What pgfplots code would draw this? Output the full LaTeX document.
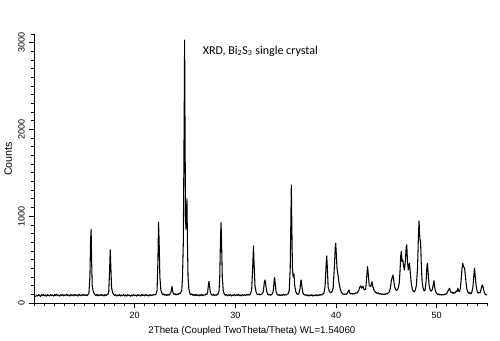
\documentclass[border=0pt]{standalone}
\usepackage{fontspec}
\setmainfont{Liberation Sans}
\newfontfamily\calibri{Carlito}
\usepackage{pgfplots}
\pgfplotsset{compat=1.18}
\begin{document}
\begin{tikzpicture}
\begin{axis}[
  scale only axis,
  width=339.75pt, height=201.75pt,
  xmin=10, xmax=55, ymin=0, ymax=3100,
  axis lines=left,
  axis line style={-, line width=0.7pt},
  xtick={20,30,40,50},
  minor xtick={10,11,...,55},
  ytick={0,1000,2000,3000},
  minor ytick={0,100,...,3100},
  tick align=outside,
  major tick length=3.5pt,
  minor tick length=2.2pt,
  tick style={line width=0.55pt, black},
  /pgf/number format/assume math mode=true,
  /pgf/number format/1000 sep={},
  ticklabel style={font=\fontsize{6.8}{8}\selectfont},
  yticklabel style={rotate=90, anchor=south},
  xlabel={2Theta (Coupled TwoTheta/Theta) WL=1.54060},
  ylabel={Counts},
  xlabel style={font=\fontsize{7.3}{9}\selectfont, at={(axis description cs:0.481,-0.104)}, anchor=center},
  ylabel style={font=\fontsize{8}{9}\selectfont, at={(axis description cs:-0.057,0.535)}, anchor=center},
  clip=false,
]
\addplot[black, line width=0.8pt, line join=round] coordinates {
(10.15,72) (10.25,90) (10.35,80) (10.45,98) (10.55,84) (10.65,76) (10.75,95) (10.85,86) (10.95,100) (11.05,82)
(11.15,92) (11.25,78) (11.35,96) (11.45,88) (11.55,80) (11.65,99) (11.75,85) (11.85,93) (11.95,79) (12.05,97)
(12.15,87) (12.25,102) (12.35,83) (12.45,91) (12.55,78) (12.65,95) (12.75,86) (12.85,99) (12.95,81) (13.05,94)
(13.15,88) (13.25,101) (13.35,84) (13.45,92) (13.55,80) (13.65,97) (13.75,87) (13.85,95) (13.95,82) (14.05,98)
(14.15,86) (14.25,93) (14.35,79) (14.45,100) (14.55,88) (14.65,83) (14.75,96) (14.85,85) (14.95,99) (15.05,87)
(15.15,94) (15.25,84) (15.35,98) (15.45,110) (15.55,300) (15.62,720)
(15.67,850) (15.72,500) (15.78,200) (15.85,150) (15.95,110) (16.05,96) (16.15,85) (16.25,99) (16.35,82) (16.45,94)
(16.55,87) (16.65,100) (16.75,84) (16.85,93) (16.95,80) (17.05,97) (17.15,88) (17.25,95)
(17.35,102) (17.42,130) (17.5,350) (17.57,611) (17.63,420) (17.7,180) (17.8,120) (17.9,98) (18.0,88) (18.1,96)
(18.2,80) (18.3,92) (18.4,84) (18.5,97) (18.6,79) (18.7,90) (18.8,85) (18.9,98) (19.0,81) (19.1,93)
(19.2,78) (19.3,95) (19.4,86) (19.5,91) (19.6,77) (19.7,94) (19.8,83) (19.9,97) (20.0,85) (20.1,90)
(20.2,79) (20.3,96) (20.4,84) (20.5,92) (20.6,80) (20.7,98) (20.8,86) (20.9,93) (21.0,82) (21.1,99)
(21.2,87) (21.3,91) (21.4,80) (21.5,96) (21.6,85) (21.7,93) (21.8,88) (21.9,100) (22.0,92) (22.1,98)
(22.22,140) (22.3,450) (22.37,930) (22.43,700) (22.5,300) (22.6,150) (22.7,112) (22.8,95) (22.9,104) (23.0,88)
(23.1,97) (23.2,85) (23.3,99) (23.4,90) (23.5,101) (23.62,130) (23.7,190) (23.78,130) (23.88,98) (23.98,108)
(24.1,92) (24.2,104) (24.3,96) (24.4,110) (24.5,108) (24.6,125) (24.68,150) (24.75,300)
(24.83,700) (24.88,1500) (24.93,2400) (24.96,3030) (25.0,2000) (25.05,1000) (25.09,850) (25.14,1000) (25.19,1200) (25.24,700)
(25.3,300) (25.38,160) (25.48,112) (25.58,95) (25.68,104) (25.78,88) (25.88,97) (25.98,84) (26.08,99) (26.18,87)
(26.28,94) (26.38,81) (26.48,96) (26.58,86) (26.68,100) (26.78,83) (26.88,95) (26.98,89) (27.08,102) (27.18,98)
(27.25,130) (27.33,210) (27.38,250) (27.44,190) (27.52,120) (27.62,96) (27.72,88) (27.82,99) (27.92,84) (28.02,95)
(28.12,88) (28.22,101) (28.3,105)
(28.38,140) (28.45,300) (28.52,730) (28.58,926) (28.63,700) (28.7,300) (28.8,140) (28.9,102) (29.0,88) (29.1,97)
(29.2,82) (29.3,94) (29.4,85) (29.5,98) (29.6,80) (29.7,92) (29.8,86) (29.9,99) (30.0,83) (30.1,95)
(30.2,87) (30.3,100) (30.4,84) (30.5,93) (30.6,81) (30.7,97) (30.8,88) (30.9,95) (31.0,85) (31.1,99)
(31.2,89) (31.3,96) (31.4,91) (31.5,104)
(31.62,150) (31.72,400) (31.8,657) (31.86,450) (31.95,200) (32.05,130) (32.15,102) (32.25,94) (32.35,106) (32.45,92)
(32.55,100) (32.65,104) (32.78,130) (32.88,240) (32.94,265) (33.0,230) (33.1,140) (33.2,104) (33.3,92) (33.4,100)
(33.5,88) (33.6,97) (33.7,108) (33.78,150) (33.86,270)
(33.9,292) (33.96,220) (34.05,130) (34.15,100) (34.25,88) (34.35,97) (34.45,84) (34.55,95) (34.65,86) (34.75,99)
(34.85,89) (34.95,96) (35.05,91) (35.15,102) (35.25,106) (35.35,140)
(35.45,400) (35.52,1000) (35.56,1360) (35.61,900) (35.67,400) (35.74,300) (35.82,334) (35.9,200) (36.0,130) (36.1,108)
(36.2,98) (36.3,104) (36.42,160) (36.5,250) (36.55,265) (36.6,200) (36.7,120) (36.8,98) (36.9,90) (37.0,97)
(37.1,83) (37.2,94) (37.3,80) (37.4,92) (37.5,85) (37.6,96) (37.7,79) (37.8,91) (37.9,84) (38.0,95)
(38.1,82) (38.2,93) (38.3,87) (38.4,98) (38.5,89) (38.6,97) (38.7,104) (38.8,112) (38.92,200) (39.0,400) (39.08,542)
(39.14,400) (39.22,180) (39.35,130) (39.45,118) (39.55,124) (39.65,140) (39.72,180) (39.85,450) (39.93,650) (39.97,688) (40.03,560) (40.1,400)
(40.2,320) (40.3,230) (40.4,170) (40.5,135) (40.6,112) (40.7,104) (40.8,96) (40.9,106) (41.0,98) (41.1,108) (41.2,130) (41.28,150) (41.36,118) (41.45,104) (41.55,112) (41.65,100)
(41.75,110) (41.85,104) (41.95,116) (42.05,112) (42.15,125) (42.25,140) (42.35,180) (42.45,196) (42.55,170) (42.68,195) (42.8,150) (42.95,160) (43.05,300)
(43.13,419) (43.2,340) (43.3,200) (43.45,190) (43.57,245) (43.68,180) (43.8,140) (43.9,128) (44.0,118) (44.1,110) (44.2,116) (44.3,102) (44.4,108)
(44.5,98) (44.6,106) (44.7,96) (44.8,104) (44.9,99) (45.0,108) (45.1,104) (45.2,118) (45.3,130) (45.4,170) (45.5,260) (45.6,300) (45.65,323) (45.72,280) (45.8,200)
(45.9,160) (46.0,145) (46.1,150) (46.2,180) (46.28,230) (46.35,350) (46.44,560) (46.49,592) (46.56,480) (46.64,496) (46.72,420) (46.8,380)
(46.9,500) (46.97,640) (47.03,669) (47.1,480) (47.18,380) (47.24,420) (47.3,458) (47.38,350) (47.48,220) (47.58,160)
(47.68,135) (47.78,128) (47.88,150) (47.98,200) (48.1,400) (48.18,750) (48.25,946) (48.3,800) (48.35,720) (48.4,707) (48.47,450)
(48.55,250) (48.65,170) (48.75,140) (48.85,148) (48.95,250) (49.03,420) (49.08,458) (49.15,350) (49.25,200) (49.35,150) (49.45,135)
(49.55,150) (49.64,200) (49.73,257) (49.82,170) (49.92,125) (50.02,108) (50.12,96) (50.22,104) (50.32,92) (50.42,100) (50.52,90) (50.62,98)
(50.72,93) (50.82,104) (50.92,100) (51.02,115) (51.1,130) (51.18,150) (51.28,170) (51.38,130) (51.46,118) (51.55,126) (51.65,108) (51.75,122) (51.85,115) (51.95,140)
(52.03,130) (52.1,170) (52.18,140) (52.26,132) (52.34,160) (52.42,250) (52.52,400) (52.6,458) (52.66,420) (52.77,404) (52.88,280) (52.98,170)
(53.08,130) (53.18,112) (53.28,120) (53.38,104) (53.48,118) (53.6,180) (53.7,330) (53.76,400) (53.82,320) (53.92,200) (54.02,135) (54.12,112) (54.22,122)
(54.32,118) (54.4,150) (54.47,190) (54.53,208) (54.62,180) (54.72,125) (54.82,100) (54.92,94) (55.0,92)
};
\node[anchor=west, font=\calibri\fontsize{9}{11}\selectfont, inner sep=0pt] at (axis cs:26.75,2900) {XRD, Bi\textsubscript{2}S\textsubscript{3} single crystal};
\end{axis}
\path ([xshift=-25.5pt,yshift=-28.5pt]current axis.south west) rectangle ([xshift=9.75pt,yshift=25.5pt]current axis.north east);
\end{tikzpicture}
\end{document}
